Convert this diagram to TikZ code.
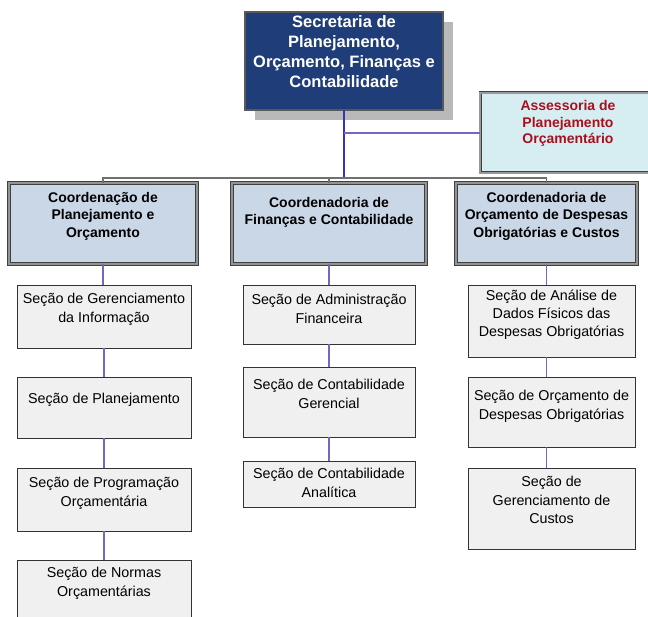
\documentclass[tikz,border=0pt]{standalone}
\usepackage{fontspec}
\setmainfont{Liberation Sans}
\usetikzlibrary{shadows}
\definecolor{navy}{HTML}{1F3D78}
\definecolor{coordfill}{HTML}{CAD7E7}
\definecolor{assfill}{HTML}{D6EEF2}
\definecolor{assred}{HTML}{A8101E}
\definecolor{secfill}{HTML}{F0F0F0}
\definecolor{vline}{HTML}{7466C4}
\definecolor{topline}{HTML}{3A32B4}
\definecolor{busgray}{HTML}{707070}
\newcommand\obox[8]{\node[#1] (#2) at (#3,#4) {\parbox[c][#6pt][t]{#5pt}{\centering\vspace*{#7pt}#8\par}};}
\tikzset{
  base/.style={anchor=north west, inner sep=0pt, outer sep=0pt},
  topbox/.style={base, fill=navy, draw=black, double=gray!70!black, line width=0.8pt, double distance=1.2pt,
    text=white, font=\bfseries\fontsize{16.5}{19.7}\selectfont,
    drop shadow={shadow xshift=10pt, shadow yshift=-10pt, fill=gray!55, opacity=1}},
  assbox/.style={base, fill=assfill, draw=black!75, double=gray!80, line width=0.8pt, double distance=1.4pt,
    text=assred, font=\bfseries\fontsize{14}{16.5}\selectfont},
  coordbox/.style={base, fill=coordfill, draw=black!75, double=gray!85, line width=0.8pt, double distance=1.6pt,
    font=\bfseries\fontsize{14}{17.5}\selectfont},
  secbox/.style={base, fill=secfill, draw=black!80, line width=0.8pt, font=\fontsize{14.3}{19}\selectfont},
  secboxc/.style={secbox, font=\fontsize{14.3}{18.2}\selectfont},
  vconn/.style={draw=vline, line width=1.2pt},
  tconn/.style={draw=topline, line width=1.3pt},
  bconn/.style={draw=busgray, line width=1.2pt}
}
\begin{document}
\begin{tikzpicture}[x=1pt, y=-1pt]
\useasboundingbox (0,0) rectangle (648,617);
\clip (0,0) rectangle (648,617);
% top and staff
\obox{topbox}{top}{245}{12}{198}{98}{4}{Secretaria de\\Planejamento,\\Orçamento, Finanças e\\Contabilidade}
\obox{assbox}{ass}{480}{93}{176}{80}{7.5}{Assessoria de\\Planejamento\\Orçamentário}
% coordinations
\obox{coordbox}{c1}{9}{183}{188}{81}{9}{Coordenação de\\Planejamento e\\Orçamento}
\obox{coordbox}{c2}{232}{183}{194}{81}{14}{Coordenadoria de\\Finanças e Contabilidade}
\obox{coordbox}{c3}{456}{183}{181}{81}{9}{Coordenadoria de\\Orçamento de Despesas\\Obrigatórias e Custos}
% sections column 1
\obox{secbox}{s11}{17}{285}{174}{63}{8.5}{Seção de Gerenciamento\\da Informação}
\obox{secbox}{s12}{17}{377}{174}{61}{16.5}{Seção de Planejamento}
\obox{secbox}{s13}{17}{468}{174}{63}{9.5}{Seção de Programação\\Orçamentária}
\obox{secbox}{s14}{17}{560}{174}{62}{7.5}{Seção de Normas\\Orçamentárias}
% sections column 2
\obox{secbox}{s21}{243}{285}{172}{59}{9}{Seção de Administração\\Financeira}
\obox{secbox}{s22}{243}{367}{172}{70}{12}{Seção de Contabilidade\\Gerencial}
\obox{secbox}{s23}{243}{461}{172}{46}{7.5}{Seção de Contabilidade\\Analítica}
% sections column 3
\obox{secboxc}{s31}{468}{285}{167}{72}{4.5}{Seção de Análise de\\Dados Físicos das\\Despesas Obrigatórias}
\obox{secboxc}{s32}{468}{377}{167}{70}{13.5}{Seção de Orçamento de\\Despesas Obrigatórias}
\obox{secboxc}{s33}{468}{468}{167}{81}{8.5}{Seção de\\Gerenciamento de\\Custos}
% connectors
\coordinate (bus) at (344,178);
\draw[tconn] (top.south) -- (top.south |- bus);
\draw[vconn] (top.south |- ass.west) -- (ass.west);
\draw[bconn] (c1.north) -- (c1.north |- bus) -- (c3.north |- bus) -- (c3.north);
\draw[bconn] (c2.north) -- (c2.north |- bus);
\draw[vconn] (c1.south) -- (c1.south |- s11.north);
\draw[vconn] (s11.south) -- (s12.north);
\draw[vconn] (s12.south) -- (s13.north);
\draw[vconn] (s13.south) -- (s14.north);
\draw[vconn] (c2.south) -- (s21.north);
\draw[vconn] (s21.south) -- (s22.north);
\draw[vconn] (s22.south) -- (s23.north);
\draw[vconn] (c3.south) -- (c3.south |- s31.north);
\draw[vconn] (c3.south |- s31.south) -- (c3.south |- s32.north);
\draw[vconn] (c3.south |- s32.south) -- (c3.south |- s33.north);
\end{tikzpicture}
\end{document}
